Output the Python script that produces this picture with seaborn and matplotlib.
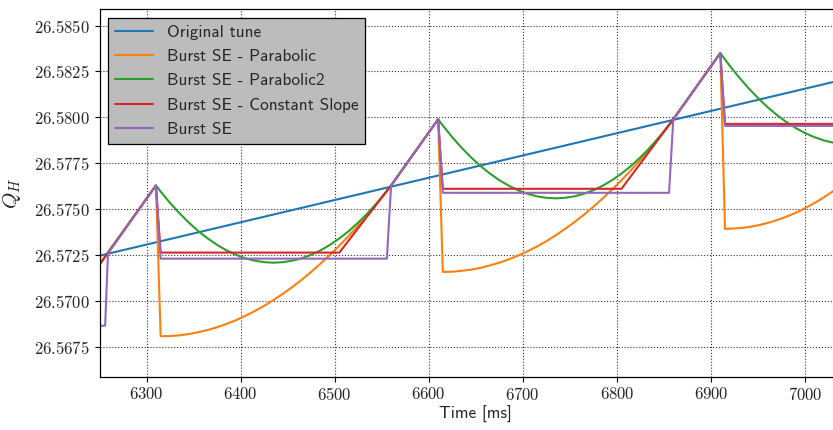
import os
import matplotlib
matplotlib.use("Agg")
import matplotlib.pyplot as plt
from matplotlib import font_manager
from matplotlib.ticker import FuncFormatter, MultipleLocator
import pandas as pd
import seaborn as sns

# ---- data: horizontal tune Q_H versus time [ms] ----
t_orig = [6250, 7050]
q_orig = [26.57248, 26.58217]

t_para = [6250, 6310,
          6315, 6325, 6335, 6345, 6355, 6365, 6375, 6385, 6395, 6405, 6415, 6425, 6435,
          6445, 6455, 6465, 6475, 6485, 6495, 6505, 6515, 6525, 6535, 6545, 6555, 6560,
          6610,
          6615, 6625, 6635, 6645, 6655, 6665, 6675, 6685, 6695, 6705, 6715, 6725, 6735,
          6745, 6755, 6765, 6775, 6785, 6795, 6805, 6815, 6825, 6835, 6845, 6855, 6860,
          6910,
          6915, 6925, 6935, 6945, 6955, 6965, 6975, 6985, 6995, 7005, 7015, 7025, 7035,
          7045, 7050]
q_para = [26.57200, 26.57630,
          26.56810, 26.56811, 26.56815, 26.56822, 26.56832, 26.56844, 26.56859, 26.56877,
          26.56897, 26.56921, 26.56947, 26.56975, 26.57007, 26.57041, 26.57078, 26.57117,
          26.57160, 26.57205, 26.57253, 26.57303, 26.57356, 26.57412, 26.57471, 26.57533,
          26.57597, 26.57630,
          26.57990,
          26.57160, 26.57161, 26.57166, 26.57172, 26.57182, 26.57195, 26.57210, 26.57228,
          26.57249, 26.57272, 26.57298, 26.57327, 26.57359, 26.57394, 26.57431, 26.57471,
          26.57514, 26.57560, 26.57608, 26.57659, 26.57713, 26.57770, 26.57829, 26.57892,
          26.57957, 26.57990,
          26.58350,
          26.57394, 26.57396, 26.57400, 26.57408, 26.57419, 26.57433, 26.57450, 26.57470,
          26.57493, 26.57520, 26.57549, 26.57582, 26.57617, 26.57656, 26.57677]

t_para2 = [6250,
           6310, 6315, 6325, 6335, 6345, 6355, 6365, 6375, 6385, 6395, 6405, 6415, 6425,
           6435, 6445, 6455, 6465, 6475, 6485, 6495, 6505, 6515, 6525, 6535, 6545, 6555,
           6560,
           6610, 6615, 6625, 6635, 6645, 6655, 6665, 6675, 6685, 6695, 6705, 6715, 6725,
           6735, 6745, 6755, 6765, 6775, 6785, 6795, 6805, 6815, 6825, 6835, 6845, 6855,
           6860,
           6910, 6920, 6930, 6940, 6950, 6960, 6970, 6980, 6990, 7000, 7010, 7020, 7030,
           7040, 7050]
q_para2 = [26.57200,
           26.57630, 26.57597, 26.57535, 26.57479, 26.57428, 26.57382, 26.57342, 26.57307,
           26.57277, 26.57253, 26.57234, 26.57221, 26.57213, 26.57210, 26.57213, 26.57221,
           26.57234, 26.57253, 26.57277, 26.57307, 26.57342, 26.57382, 26.57428, 26.57479,
           26.57535, 26.57597, 26.57630,
           26.57990, 26.57956, 26.57893, 26.57835, 26.57783, 26.57736, 26.57695, 26.57659,
           26.57629, 26.57604, 26.57585, 26.57571, 26.57563, 26.57560, 26.57563, 26.57571,
           26.57585, 26.57604, 26.57629, 26.57659, 26.57695, 26.57736, 26.57783, 26.57835,
           26.57893, 26.57956, 26.57990,
           26.58350, 26.58281, 26.58218, 26.58159, 26.58106, 26.58057, 26.58014, 26.57976,
           26.57943, 26.57915, 26.57893, 26.57875, 26.57863, 26.57855, 26.57853]

t_const = [6250, 6310, 6315, 6505, 6560, 6610, 6615, 6805, 6860, 6910, 6915, 7050]
q_const = [26.57200, 26.57630, 26.57265, 26.57265, 26.57630, 26.57990, 26.57612, 26.57612,
           26.57990, 26.58350, 26.57965, 26.57965]

t_burst = [6250, 6256, 6259, 6310, 6315, 6555.5, 6560, 6610, 6615, 6855.5, 6860, 6910,
           6915, 7050]
q_burst = [26.56867, 26.56867, 26.57260, 26.57630, 26.57232, 26.57232, 26.57630, 26.57990,
           26.57590, 26.57590, 26.57990, 26.58350, 26.57954, 26.57954]

labels = ["Original tune", "Burst SE - Parabolic", "Burst SE - Parabolic2",
          "Burst SE - Constant Slope", "Burst SE"]
x_ticks = [6300, 6400, 6500, 6600, 6700, 6800, 6900, 7000]

series = [(t_orig, q_orig), (t_para, q_para), (t_para2, q_para2),
          (t_const, q_const), (t_burst, q_burst)]
df = pd.concat([pd.DataFrame({"time": tt, "tune": qq, "series": name})
                for name, (tt, qq) in zip(labels, series)], ignore_index=True)

# ---- style: Computer Modern sans for text, CM serif (mathtext) for numbers ----
sns.set_theme(style="ticks")
ttf_dir = os.path.join(matplotlib.get_data_path(), "fonts", "ttf")
for fname in ("cmss10.ttf", "cmr10.ttf"):
    font_manager.fontManager.addfont(os.path.join(ttf_dir, fname))
plt.rcParams["font.family"] = ["cmss10", "DejaVu Sans"]
plt.rcParams["mathtext.fontset"] = "cm"
plt.rcParams["axes.unicode_minus"] = False

fig = plt.figure(figsize=(8.33, 4.30), dpi=100)
ax = fig.add_axes([0.11945, 0.1240, 0.90336, 0.8551])

palette = sns.color_palette("tab10", 5)
sns.lineplot(data=df, x="time", y="tune", hue="series", hue_order=labels,
             palette=palette, estimator=None, sort=False, linewidth=1.5, ax=ax)

ax.set_xlim(6250, 7050)
ax.set_ylim(26.5659, 26.5859)
ax.set_xticks(x_ticks)
ax.yaxis.set_major_locator(MultipleLocator(0.0025))
ax.xaxis.set_major_formatter(FuncFormatter(lambda v, p: f"${v:.0f}$"))
ax.yaxis.set_major_formatter(FuncFormatter(lambda v, p: f"${v:.4f}$"))
ax.tick_params(axis="both", labelsize=12, length=3.5, width=0.8, color="black",
               direction="out")

ax.grid(True, color="black", linestyle=":", linewidth=0.8, alpha=0.8)
for side in ("left", "bottom", "top"):
    ax.spines[side].set_color("black")
    ax.spines[side].set_linewidth(0.9)
ax.spines["right"].set_visible(False)

ax.set_xlabel("Time [ms]", fontsize=12.4, labelpad=2)
ax.set_ylabel(r"$Q_H$", fontsize=15, labelpad=8)

leg = ax.legend(loc="upper left", fontsize=12.4, frameon=True, fancybox=False,
                framealpha=1, facecolor="#bcbcbc", edgecolor="black",
                handlelength=2.2, labelspacing=0.54, borderaxespad=0.5)
leg.get_frame().set_linewidth(0.9)

fig.savefig("out.png", dpi=100)
